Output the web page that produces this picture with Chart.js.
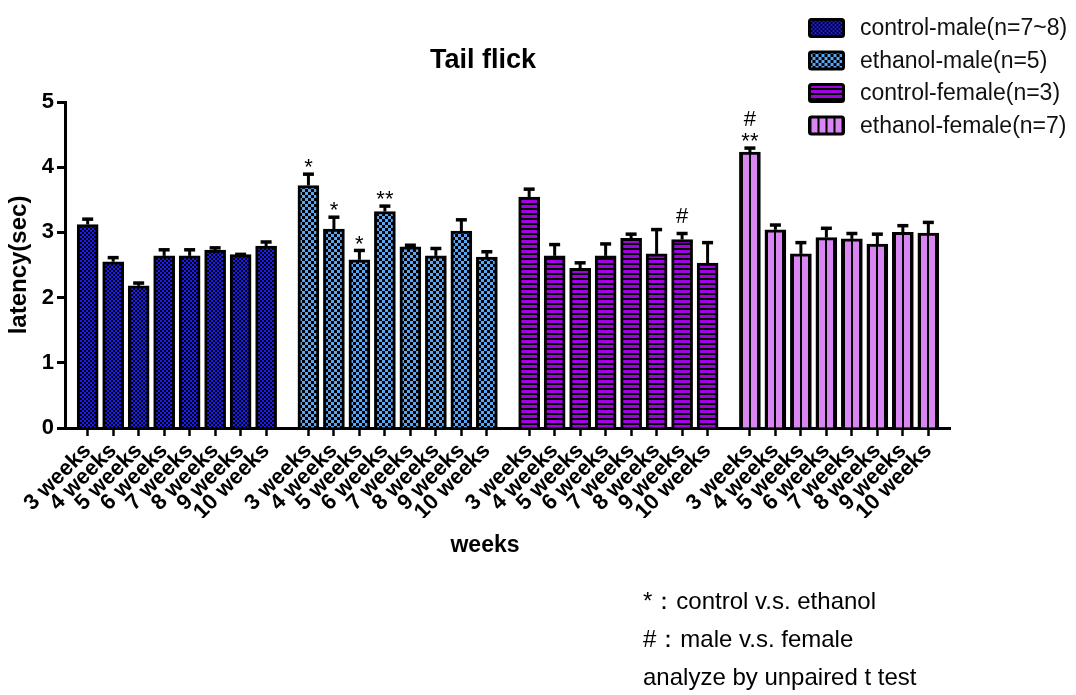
<!DOCTYPE html>
<html>
<head>
<meta charset="utf-8">
<title>Tail flick</title>
<script src="https://cdn.jsdelivr.net/npm/chart.js@4.4.0/dist/chart.umd.min.js"></script>
<style>
  html, body { margin: 0; padding: 0; background: #ffffff; }
  #wrap { width: 1076px; height: 695px; position: relative; }
</style>
</head>
<body>
<div id="wrap"><canvas id="chart" width="1076" height="695"></canvas></div>
<script>
// Tail flick latency (sec), mean + SEM for each group and week
const weekLabels = ['3 weeks', '4 weeks', '5 weeks', '6 weeks', '7 weeks', '8 weeks', '9 weeks', '10 weeks'];
const groupNames = ['control-male(n=7~8)', 'ethanol-male(n=5)', 'control-female(n=3)', 'ethanol-female(n=7)'];

const controlMaleMean   = [3.12, 2.55, 2.18, 2.64, 2.64, 2.73, 2.66, 2.79];
const controlMaleSem    = [0.11, 0.09, 0.07, 0.12, 0.12, 0.06, 0.03, 0.09];
const ethanolMaleMean   = [3.72, 3.05, 2.58, 3.32, 2.78, 2.64, 3.02, 2.62];
const ethanolMaleSem    = [0.20, 0.21, 0.17, 0.11, 0.05, 0.14, 0.20, 0.11];
const controlFemaleMean = [3.54, 2.64, 2.45, 2.64, 2.91, 2.67, 2.89, 2.53];
const controlFemaleSem  = [0.15, 0.20, 0.11, 0.21, 0.09, 0.40, 0.12, 0.34];
const ethanolFemaleMean = [4.23, 3.04, 2.67, 2.92, 2.90, 2.82, 3.00, 2.99];
const ethanolFemaleSem  = [0.09, 0.10, 0.20, 0.17, 0.11, 0.18, 0.13, 0.19];

// significance marks: * control v.s. ethanol, # male v.s. female
const controlMaleStars   = ['', '', '', '', '', '', '', ''];
const ethanolMaleStars   = ['*', '*', '*', '**', '', '', '', ''];
const controlFemaleStars = ['', '', '', '', '', '', '', ''];
const ethanolFemaleStars = ['**', '', '', '', '', '', '', ''];
const controlMaleHash    = ['', '', '', '', '', '', '', ''];
const ethanolMaleHash    = ['', '', '', '', '', '', '', ''];
const controlFemaleHash  = ['', '', '', '', '', '', '#', ''];
const ethanolFemaleHash  = ['#', '', '', '', '', '', '', ''];

const yTicks = [0, 1, 2, 3, 4, 5];
const notes = ['*：control v.s. ethanol', '#：male v.s. female', 'analyze by unpaired t test'];

// layout helpers
const GROUP_STEP = 8.66;   // x units between the first bars of two groups
const FONT = '"Liberation Sans", Arial, sans-serif';

const canvas = document.getElementById('chart');
const ctx = canvas.getContext('2d');

// Small tiles for the hatch fills
function makeTile(w, h, draw) {
    const tile = document.createElement('canvas');
    tile.width = w;
    tile.height = h;
    draw(tile.getContext('2d'));
    return tile;
}

const tiles = [
    // fine blue / black checker
    makeTile(4, 4, g => {
        g.fillStyle = '#1a1aff'; g.fillRect(0, 0, 4, 4);
        g.fillStyle = '#000'; g.fillRect(0, 0, 2, 2); g.fillRect(2, 2, 2, 2);
    }),
    // coarse light blue / black checker
    makeTile(6, 6, g => {
        g.fillStyle = '#000'; g.fillRect(0, 0, 6, 6);
        g.fillStyle = '#58a6f4'; g.fillRect(0, 0, 3, 3); g.fillRect(3, 3, 3, 3);
    }),
    // purple with horizontal black lines
    makeTile(5, 5, g => {
        g.fillStyle = '#a400e6'; g.fillRect(0, 0, 5, 5);
        g.fillStyle = '#000'; g.fillRect(0, 3, 5, 2);
    }),
    // violet with a vertical black line
    makeTile(8, 8, g => {
        g.fillStyle = '#d985f2'; g.fillRect(0, 0, 8, 8);
        g.fillStyle = '#000'; g.fillRect(3, 0, 2, 8);
    })
];

// pattern whose tile is shifted so it lines up with a given x pixel
function patternAt(g, px) {
    const p = ctx.createPattern(tiles[g], 'repeat');
    p.setTransform(new DOMMatrix().translate(px - tiles[g].width / 2, 0));
    return p;
}

const means = [controlMaleMean, ethanolMaleMean, controlFemaleMean, ethanolFemaleMean];
const sems = [controlMaleSem, ethanolMaleSem, controlFemaleSem, ethanolFemaleSem];
const stars = [controlMaleStars, ethanolMaleStars, controlFemaleStars, ethanolFemaleStars];
const hashes = [controlMaleHash, ethanolMaleHash, controlFemaleHash, ethanolFemaleHash];

const datasets = groupNames.map((name, g) => ({
    label: name,
    data: means[g].map((v, i) => ({ x: g * GROUP_STEP + i, y: v })),
    sem: sems[g],
    stars: stars[g],
    hashes: hashes[g],
    group: g,
    // anchor each bar's hatch on the bar centre
    backgroundColor: c => {
        const xs = c.chart.scales.x;
        return patternAt(g, xs ? Math.round(xs.getPixelForValue(c.raw.x)) : 0);
    },
    borderColor: '#000',
    borderWidth: 3,
    borderSkipped: 'start',
    grouped: false,
    barThickness: 21
}));

// every bar position gets a tick
const tickPositions = datasets.flatMap(ds => ds.data.map(p => p.x));

// Error bars, marks, legend and free text
const decorations = {
    id: 'decorations',
    afterDatasetsDraw(chart) {
        const c = chart.ctx;
        const yScale = chart.scales.y;
        chart.data.datasets.forEach((ds, d) => {
            chart.getDatasetMeta(d).data.forEach((bar, i) => {
                const top = yScale.getPixelForValue(ds.data[i].y + ds.sem[i]);
                c.save();
                c.strokeStyle = '#000';
                c.lineWidth = 3;
                c.beginPath();
                c.moveTo(bar.x, bar.y);
                c.lineTo(bar.x, top + 1.5);
                c.stroke();
                c.lineWidth = 3.5;
                c.beginPath();
                c.moveTo(bar.x - 5.5, top + 1.75);
                c.lineTo(bar.x + 5.5, top + 1.75);
                c.stroke();

                c.fillStyle = '#000';
                c.textAlign = 'center';
                c.textBaseline = 'alphabetic';
                let markTop = top;
                if (ds.stars[i]) {
                    c.font = '22px ' + FONT;
                    c.fillText(ds.stars[i], bar.x, top + 2);
                    markTop = top - 11;
                }
                if (ds.hashes[i]) {
                    c.font = '22px ' + FONT;
                    c.fillText(ds.hashes[i], bar.x, markTop - 9);
                }
                c.restore();
            });
        });
    },
    afterDraw(chart) {
        const c = chart.ctx;
        c.save();
        c.fillStyle = '#000';

        // title
        c.font = 'bold 27px ' + FONT;
        c.textAlign = 'center';
        c.textBaseline = 'middle';
        c.fillText('Tail flick', 483, 61);

        // x axis title
        c.font = 'bold 23px ' + FONT;
        c.fillText('weeks', 485, 546);

        // legend
        c.textAlign = 'left';
        c.font = '23px ' + FONT;
        chart.data.datasets.forEach((ds, d) => {
            const cy = 28 + d * 32.5;
            c.beginPath();
            c.roundRect(809.5, cy - 8.5, 34, 17, 2);
            c.fillStyle = patternAt(ds.group, 818.5);
            c.fill();
            c.lineWidth = 3;
            c.strokeStyle = '#000';
            c.stroke();
            c.fillStyle = '#111';
            c.fillText(ds.label, 860, cy + 1);
        });

        // notes
        c.font = '24px ' + FONT;
        c.fillStyle = '#000';
        notes.forEach((t, k) => c.fillText(t, 643, 602 + k * 38));
        c.restore();
    }
};

new Chart(ctx, {
    type: 'bar',
    data: { datasets: datasets },
    options: {
        responsive: false,
        animation: false,
        layout: { padding: { top: 102, right: 126, bottom: 177, left: 0 } },
        plugins: {
            legend: { display: false },
            title: { display: false },
            tooltip: { enabled: false }
        },
        scales: {
            x: {
                type: 'linear',
                offset: false,
                min: -0.89,
                max: 3 * GROUP_STEP + 7.85,
                afterBuildTicks: scale => {
                    scale.ticks = tickPositions.map(v => ({ value: v }));
                },
                afterFit: scale => { scale.height = 90; },
                ticks: {
                    autoSkip: false,
                    minRotation: 45,
                    maxRotation: 45,
                    padding: 2,
                    color: '#000',
                    font: { family: FONT, size: 22, weight: 'bold' },
                    callback: (value, index) => weekLabels[index % weekLabels.length]
                },
                grid: {
                    display: true,
                    offset: false,
                    drawOnChartArea: false,
                    drawTicks: true,
                    tickLength: 8,
                    tickWidth: 2.5,
                    color: '#000'
                },
                border: { display: true, color: '#000', width: 3 }
            },
            y: {
                min: 0,
                max: 5,
                afterBuildTicks: scale => {
                    scale.ticks = yTicks.map(v => ({ value: v }));
                },
                afterFit: scale => { scale.width = 65; },
                ticks: {
                    padding: 3,
                    color: '#000',
                    font: { family: FONT, size: 22, weight: 'bold' }
                },
                grid: {
                    display: true,
                    drawOnChartArea: false,
                    drawTicks: true,
                    tickLength: 8,
                    tickWidth: 3,
                    color: '#000'
                },
                border: { display: true, color: '#000', width: 3 },
                title: {
                    display: true,
                    text: 'latency(sec)',
                    color: '#000',
                    padding: { top: 5, bottom: 0 },
                    font: { family: FONT, size: 24, weight: 'bold' }
                }
            }
        }
    },
    plugins: [decorations]
});
</script>
</body>
</html>
